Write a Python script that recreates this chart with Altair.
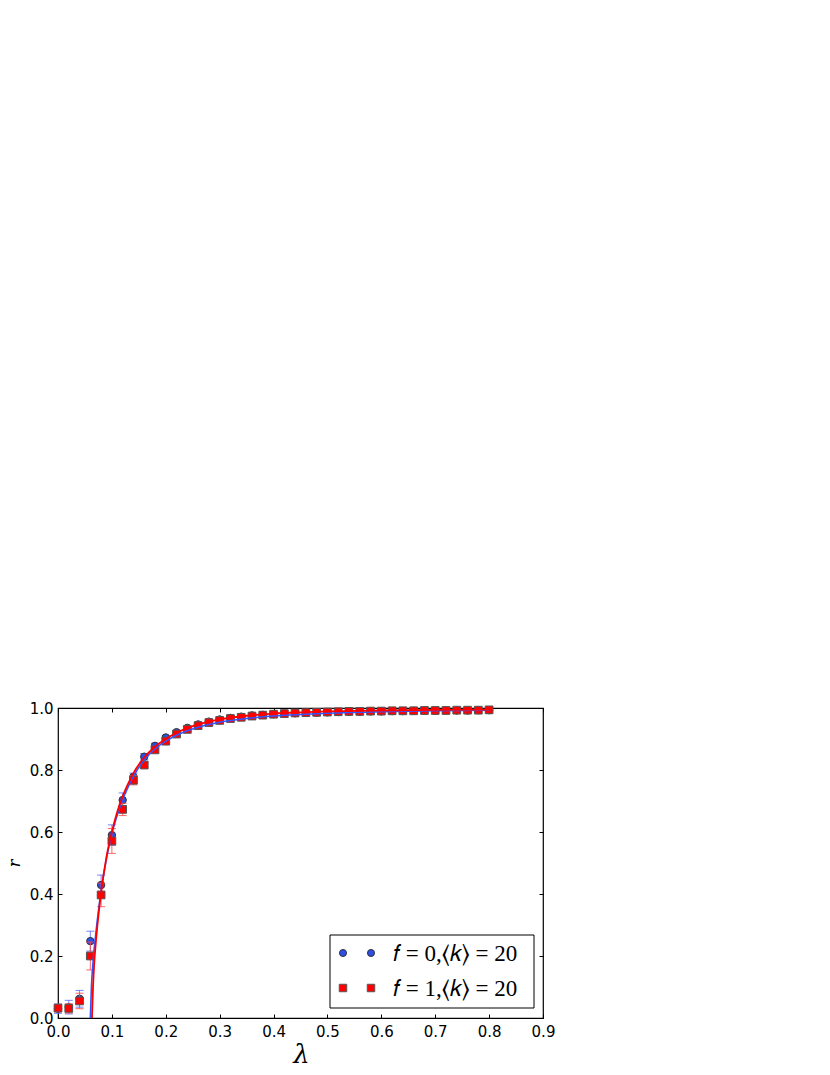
import altair as alt
import pandas as pd

# ---- data ----
lam = [0.00, 0.02, 0.04, 0.06, 0.08, 0.10, 0.12, 0.14, 0.16, 0.18, 0.20,
       0.22, 0.24, 0.26, 0.28, 0.30, 0.32, 0.34, 0.36, 0.38, 0.40,
       0.42, 0.44, 0.46, 0.48, 0.50, 0.52, 0.54, 0.56, 0.58, 0.60,
       0.62, 0.64, 0.66, 0.68, 0.70, 0.72, 0.74, 0.76, 0.78, 0.80]

r_f0 = [0.030, 0.035, 0.062, 0.248, 0.429, 0.590, 0.703, 0.778, 0.843, 0.878, 0.905,
        0.922, 0.936, 0.947, 0.956, 0.963, 0.968, 0.972, 0.976, 0.978, 0.980,
        0.982, 0.983, 0.984, 0.985, 0.986, 0.987, 0.988, 0.988, 0.989, 0.989,
        0.990, 0.990, 0.991, 0.991, 0.991, 0.992, 0.992, 0.992, 0.993, 0.993]
err_f0 = [0.015, 0.022, 0.027, 0.032, 0.032, 0.033, 0.023, 0.012, 0.010, 0.008, 0.006,
          0.005, 0.004, 0.004, 0.003, 0.003, 0.003, 0.002, 0.002, 0.002, 0.002,
          0.002, 0.002, 0.002, 0.002, 0.002, 0.002, 0.002, 0.002, 0.002, 0.002,
          0.002, 0.002, 0.002, 0.002, 0.002, 0.002, 0.002, 0.002, 0.002, 0.002]

r_f1 = [0.032, 0.031, 0.055, 0.200, 0.397, 0.571, 0.673, 0.767, 0.816, 0.865, 0.893,
        0.916, 0.931, 0.943, 0.953, 0.960, 0.966, 0.970, 0.974, 0.977, 0.980,
        0.982, 0.984, 0.985, 0.986, 0.987, 0.988, 0.989, 0.989, 0.990, 0.990,
        0.991, 0.991, 0.991, 0.992, 0.992, 0.992, 0.993, 0.993, 0.993, 0.994]
err_f1 = [0.012, 0.015, 0.025, 0.045, 0.038, 0.040, 0.020, 0.015, 0.010, 0.008, 0.006,
          0.005, 0.004, 0.004, 0.003, 0.003, 0.003, 0.002, 0.002, 0.002, 0.002,
          0.002, 0.002, 0.002, 0.002, 0.002, 0.002, 0.002, 0.002, 0.002, 0.002,
          0.002, 0.002, 0.002, 0.002, 0.002, 0.002, 0.002, 0.002, 0.002, 0.002]

curve_lam_f0 = [0.060, 0.062, 0.065, 0.070, 0.075, 0.080, 0.090, 0.100, 0.110, 0.120,
                0.130, 0.140, 0.160, 0.180, 0.200, 0.220, 0.240, 0.260, 0.280, 0.300,
                0.350, 0.400, 0.450, 0.500, 0.600, 0.700, 0.800]
curve_r_f0 = [0.000, 0.100, 0.180, 0.270, 0.345, 0.410, 0.515, 0.595, 0.655, 0.705,
              0.745, 0.780, 0.832, 0.868, 0.893, 0.912, 0.927, 0.938, 0.947, 0.954,
              0.966, 0.974, 0.979, 0.983, 0.988, 0.991, 0.993]

curve_lam_f1 = [0.063, 0.065, 0.067, 0.070, 0.075, 0.080, 0.090, 0.100, 0.110, 0.120,
                0.130, 0.140, 0.160, 0.180, 0.200, 0.220, 0.240, 0.260, 0.280, 0.300,
                0.350, 0.400, 0.450, 0.500, 0.600, 0.700, 0.800]
curve_r_f1 = [0.000, 0.100, 0.170, 0.240, 0.330, 0.405, 0.520, 0.600, 0.665, 0.715,
              0.755, 0.790, 0.840, 0.875, 0.900, 0.920, 0.935, 0.947, 0.956, 0.963,
              0.975, 0.982, 0.986, 0.989, 0.992, 0.994, 0.995]

x_ticks = [0.0, 0.1, 0.2, 0.3, 0.4, 0.5, 0.6, 0.7, 0.8, 0.9]
y_ticks = [0.0, 0.2, 0.4, 0.6, 0.8, 1.0]
legend_labels = ["𝑓 = 0,⟨𝑘⟩ = 20", "𝑓 = 1,⟨𝑘⟩ = 20"]

BLUE = "#2b4de8"
BLUE_LINE = "#3355ff"
RED = "#ff0000"

W, H = 485, 310


def pts_df(r, e):
    return pd.DataFrame({"lam": lam, "r": r,
                         "lo": [a - b for a, b in zip(r, e)],
                         "hi": [a + b for a, b in zip(r, e)]})


d0 = pts_df(r_f0, err_f0)
d1 = pts_df(r_f1, err_f1)
c0 = pd.DataFrame({"lam": curve_lam_f0, "r": curve_r_f0})
c1 = pd.DataFrame({"lam": curve_lam_f1, "r": curve_r_f1})

xs = alt.Scale(domain=[0, 0.9], nice=False, zero=False)
ys = alt.Scale(domain=[0, 1], nice=False, zero=False)

tick_style = dict(offset=-4, tickSize=4, tickColor="black", tickWidth=1,
                  domain=False, grid=False)

x_bottom = alt.Axis(orient="bottom", values=x_ticks, format=".1f",
                    labelPadding=6, labelFont="DejaVu Sans", labelFontSize=15,
                    labelColor="black", labelFlush=False, labelOverlap=False,
                    title="λ", titleFont="DejaVu Serif", titleFontStyle="italic",
                    titleFontWeight="normal", titleFontSize=26, titleColor="black",
                    titleX=243, titleY=48, titleBaseline="alphabetic",
                    **tick_style)
y_left = alt.Axis(orient="left", values=y_ticks, format=".1f",
                  labelPadding=5, labelFont="DejaVu Sans", labelFontSize=15,
                  labelColor="black", labelFlush=False, labelOverlap=False,
                  title="r", titleFont="DejaVu Serif", titleFontStyle="italic",
                  titleFontWeight="normal", titleFontSize=16, titleColor="black",
                  titleX=-43, titleBaseline="alphabetic",
                  **tick_style)
x_top = alt.Axis(orient="top", values=x_ticks, labels=False, title=None, **tick_style)
y_right = alt.Axis(orient="right", values=y_ticks, labels=False, title=None, **tick_style)

X = alt.X("lam:Q", scale=xs, axis=None)
Y = alt.Y("r:Q", scale=ys, axis=None)

# error bars
eb0 = alt.Chart(d0).mark_rule(color="#5a70ff", strokeWidth=1, opacity=0.85).encode(
    x=alt.X("lam:Q", scale=xs, axis=x_top),
    y=alt.Y("lo:Q", scale=ys, axis=y_right), y2="hi:Q")
cap0a = alt.Chart(d0).mark_tick(orient="horizontal", size=8, thickness=1,
                                color="#5a70ff", opacity=0.85).encode(
    x=X, y=alt.Y("lo:Q", scale=ys, axis=None))
cap0b = alt.Chart(d0).mark_tick(orient="horizontal", size=8, thickness=1,
                                color="#5a70ff", opacity=0.85).encode(
    x=X, y=alt.Y("hi:Q", scale=ys, axis=None))
pt0 = alt.Chart(d0).mark_point(shape="circle", filled=True, size=55, fill=BLUE,
                               stroke="#333333", strokeWidth=1, opacity=1).encode(x=X, y=Y)

eb1 = alt.Chart(d1).mark_rule(color="#ff4a4a", strokeWidth=1, opacity=0.85).encode(
    x=X, y=alt.Y("lo:Q", scale=ys, axis=None), y2="hi:Q")
cap1a = alt.Chart(d1).mark_tick(orient="horizontal", size=8, thickness=1,
                                color="#ff4a4a", opacity=0.85).encode(
    x=X, y=alt.Y("lo:Q", scale=ys, axis=None))
cap1b = alt.Chart(d1).mark_tick(orient="horizontal", size=8, thickness=1,
                                color="#ff4a4a", opacity=0.85).encode(
    x=X, y=alt.Y("hi:Q", scale=ys, axis=None))
pt1 = alt.Chart(d1).mark_point(shape="square", filled=True, size=60, fill=RED,
                               stroke="#555555", strokeWidth=1, opacity=1).encode(x=X, y=Y)

ln0 = alt.Chart(c0).mark_line(color=BLUE_LINE, strokeWidth=1.6, interpolate="monotone").encode(
    x=alt.X("lam:Q", scale=xs, axis=x_bottom),
    y=alt.Y("r:Q", scale=ys, axis=y_left))
ln1 = alt.Chart(c1).mark_line(color=RED, strokeWidth=1.8, interpolate="monotone").encode(
    x=X, y=Y)

# ---- legend (drawn by hand, matplotlib style) ----
one = pd.DataFrame({"k": [0]})
leg_box = alt.Chart(one).mark_rect(fill="white", stroke="black", strokeWidth=1).encode(
    x=alt.value(272), x2=alt.value(476), y=alt.value(227), y2=alt.value(300))

leg_layers = [leg_box]
for row, (shape, fill, stroke, size, label) in enumerate([
        ("circle", BLUE, "#333333", 50, legend_labels[0]),
        ("square", RED, "#555555", 56, legend_labels[1])]):
    yy = 245 + 35 * row
    for xx in (285, 313):
        leg_layers.append(alt.Chart(one).mark_point(
            shape=shape, filled=True, size=size, fill=fill, stroke=stroke,
            strokeWidth=1, opacity=1).encode(x=alt.value(xx), y=alt.value(yy)))
    leg_layers.append(alt.Chart(one).mark_text(
        align="left", baseline="middle", font="Liberation Serif", fontSize=23,
        color="black").encode(x=alt.value(335), y=alt.value(yy + 1), text=alt.value(label)))

chart = alt.layer(eb0, cap0a, cap0b, pt0, eb1, cap1a, cap1b, pt1, ln0, ln1,
                  *leg_layers).resolve_axis(x="independent", y="independent").properties(
    width=W, height=H, autosize="none",
    padding={"left": 50, "top": 700, "right": 40, "bottom": 49},
).configure(background="white").configure_view(stroke="black", strokeWidth=1.2)

chart.save("out.html", embed_options={"renderer": "svg", "actions": False})
